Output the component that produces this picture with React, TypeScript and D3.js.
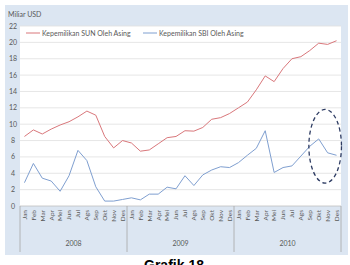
import React, { useEffect, useRef } from 'react';
import * as d3 from 'd3';

const months = ['Jan', 'Feb', 'Mar', 'Apr', 'Mei', 'Jun', 'Jul', 'Ags', 'Sep', 'Okt', 'Nov', 'Des'];
const years = ['2008', '2009', '2010'];

const sunValues = [
  8.5, 9.3, 8.8, 9.4, 9.9, 10.3, 10.9, 11.6, 11.1, 8.5, 7.1, 8.0,
  7.7, 6.7, 6.85, 7.6, 8.35, 8.5, 9.2, 9.15, 9.6, 10.6, 10.8, 11.3,
  12.0, 12.7, 14.2, 15.9, 15.2, 16.8, 18.0, 18.25, 19.0, 19.9, 19.75, 20.2
];
const sbiValues = [
  2.85, 5.2, 3.4, 3.05, 1.8, 3.7, 6.8, 5.55, 2.35, 0.6, 0.6, 0.8,
  1.0, 0.75, 1.45, 1.45, 2.3, 2.1, 3.7, 2.5, 3.8, 4.4, 4.8, 4.7,
  5.3, 6.2, 7.05, 9.2, 4.1, 4.7, 4.9, 6.1, 7.3, 8.2, 6.5, 6.2
];
const yTicks = [0, 2, 4, 6, 8, 10, 12, 14, 16, 18, 20, 22];
const seriesNames = ['Kepemilikan SUN Oleh Asing', 'Kepemilikan SBI Oleh Asing'];

const App: React.FC = () => {
  const svgRef = useRef<SVGSVGElement>(null);

  useEffect(() => {
    if (!svgRef.current) return;
    const svg = d3.select(svgRef.current);
    svg.selectAll('*').remove();

    const width = 350;
    const height = 265;
    const left = 20;
    const right = 341;
    const top = 26;
    const bottom = 206;
    const font = 'Lato, "Open Sans", sans-serif';
    const textColor = '#595959';

    const labels = years.flatMap((y) => months.map((m) => `${m}-${y}`));

    const x = d3.scaleBand<string>().domain(labels).range([left, right]);
    const xc = (i: number) => (x(labels[i]) ?? 0) + x.bandwidth() / 2;
    const y = d3.scaleLinear().domain([0, 22]).range([bottom, top]);

    svg.attr('width', width).attr('height', height);

    svg.append('rect')
      .attr('x', 5).attr('y', 5).attr('width', 343).attr('height', 250)
      .attr('fill', '#dce6f2');

    svg.append('rect')
      .attr('x', left).attr('y', top).attr('width', right - left).attr('height', bottom - top)
      .attr('fill', '#ffffff');

    // gridlines
    svg.append('g')
      .selectAll('line')
      .data(yTicks.slice(1))
      .enter()
      .append('line')
      .attr('x1', left).attr('x2', right)
      .attr('y1', (d) => y(d)).attr('y2', (d) => y(d))
      .attr('stroke', '#e0e0e0').attr('stroke-width', 0.8);

    svg.append('line')
      .attr('x1', left).attr('x2', right)
      .attr('y1', bottom).attr('y2', bottom)
      .attr('stroke', '#bfbfbf').attr('stroke-width', 0.8);

    // y labels
    svg.append('g')
      .selectAll('text')
      .data(yTicks)
      .enter()
      .append('text')
      .attr('x', 13)
      .attr('y', (d) => y(d) + 2.5)
      .attr('text-anchor', 'middle')
      .attr('font-family', font)
      .attr('font-size', 7)
      .attr('fill', textColor)
      .text((d) => d);

    svg.append('text')
      .attr('x', 8).attr('y', 17)
      .attr('font-family', font).attr('font-size', 7)
      .attr('fill', textColor)
      .text('Miliar USD');

    // year separators
    const yearEdges = [0, 12, 24, 36].map((i) =>
      i < 36 ? (x(labels[i]) ?? 0) : right
    );
    svg.append('g')
      .selectAll('line')
      .data(yearEdges)
      .enter()
      .append('line')
      .attr('x1', (d) => d).attr('x2', (d) => d)
      .attr('y1', bottom).attr('y2', 252)
      .attr('stroke', '#a6a6a6').attr('stroke-width', 0.8);

    // month labels
    svg.append('g')
      .selectAll('text')
      .data(labels)
      .enter()
      .append('text')
      .attr('transform', (_, i) => `translate(${xc(i) + 2.3}, 210) rotate(-90)`)
      .attr('text-anchor', 'end')
      .attr('font-family', font)
      .attr('font-size', 6.5)
      .attr('fill', textColor)
      .text((d) => d.split('-')[0]);

    svg.append('g')
      .selectAll('text')
      .data(years)
      .enter()
      .append('text')
      .attr('x', (_, i) => (yearEdges[i] + yearEdges[i + 1]) / 2)
      .attr('y', 246)
      .attr('text-anchor', 'middle')
      .attr('font-family', font)
      .attr('font-size', 7)
      .attr('fill', textColor)
      .text((d) => d);

    // lines
    const line = d3.line<number>()
      .x((_, i) => xc(i))
      .y((d) => y(d));

    const colors = ['#d9777b', '#7f9fd0'];
    [sunValues, sbiValues].forEach((vals, k) => {
      svg.append('path')
        .datum(vals)
        .attr('d', line)
        .attr('fill', 'none')
        .attr('stroke', colors[k])
        .attr('stroke-width', 1);
    });

    // legend
    const legendX = [26, 143];
    seriesNames.forEach((name, k) => {
      const g = svg.append('g').attr('transform', `translate(${legendX[k]}, 33)`);
      g.append('line').attr('x1', 0).attr('x2', 14).attr('y1', 0).attr('y2', 0)
        .attr('stroke', colors[k]).attr('stroke-width', 1);
      g.append('text').attr('x', 16).attr('y', 2.5)
        .attr('font-family', font).attr('font-size', 7)
        .attr('fill', textColor)
        .text(name);
    });

    // dashed ellipse annotation
    const cx = (xc(33) + xc(34)) / 2 + 2;
    svg.append('ellipse')
      .attr('cx', cx)
      .attr('cy', y(7.3))
      .attr('rx', 16.3)
      .attr('ry', y(0) - y(4.5))
      .attr('fill', 'none')
      .attr('stroke', '#2e3c63')
      .attr('stroke-width', 1.3)
      .attr('stroke-dasharray', '4,3');

    svg.append('text')
      .attr('x', 174).attr('y', 270)
      .attr('text-anchor', 'middle')
      .attr('font-family', '"Liberation Sans", Arial, sans-serif')
      .attr('font-weight', 700)
      .attr('font-size', 14)
      .attr('fill', '#000')
      .text('Grafik 18');
  }, []);

  return <svg ref={svgRef} style={{ position: 'absolute', left: 0, top: 0 }} />;
};

export default App;
